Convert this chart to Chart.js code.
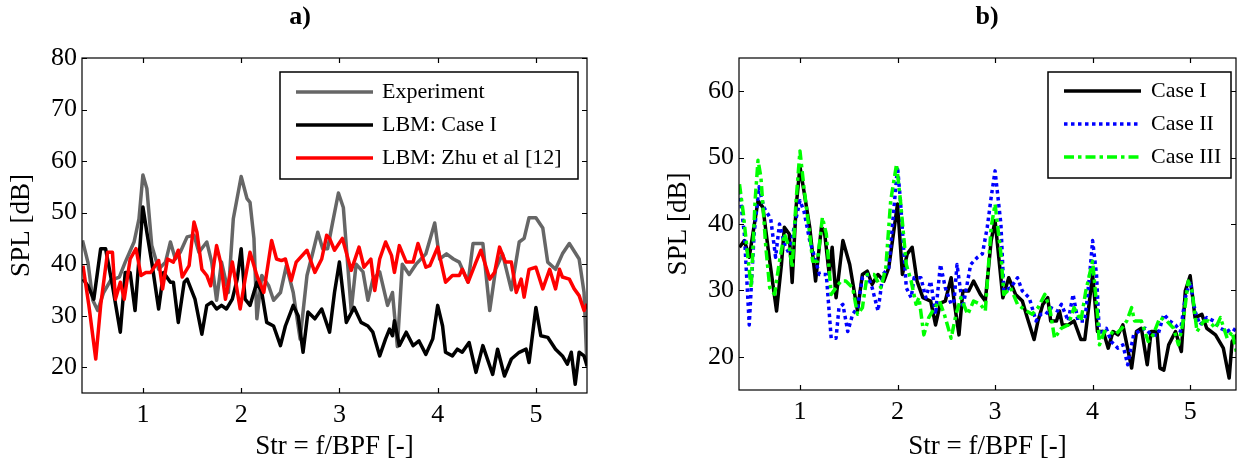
<!DOCTYPE html>
<html>
<head>
<meta charset="utf-8">
<script src="https://cdn.jsdelivr.net/npm/chart.js@4.4.0/dist/chart.umd.min.js"></script>
<style>
    html, body { margin: 0; padding: 0; background: #fff; }
    #wrap { position: relative; width: 1241px; height: 463px; }
    .panel { position: absolute; top: 0; height: 463px; }
    #pa { left: 0; width: 620px; }
    #pb { left: 620px; width: 621px; }
</style>
</head>
<body>
<div id="wrap">
    <div class="panel" id="pa"><canvas id="chartA"></canvas></div>
    <div class="panel" id="pb"><canvas id="chartB"></canvas></div>
</div>
<script>
// ticks
const xTicks = [1, 2, 3, 4, 5];
const yTicksA = [20, 30, 40, 50, 60, 70, 80];
const yTicksB = [20, 30, 40, 50, 60];

// a) Experiment
const expX = [0.385, 0.44, 0.49, 0.54, 0.60, 0.67, 0.76, 0.82, 0.91, 0.96, 1.00, 1.04, 1.09, 1.16, 1.23, 1.28, 1.33, 1.38, 1.45, 1.52,
    1.57, 1.65, 1.70, 1.75, 1.80, 1.87, 1.92, 2.00, 2.06, 2.09, 2.13, 2.16, 2.21, 2.28, 2.33, 2.40, 2.46, 2.53, 2.60, 2.67,
    2.73, 2.78, 2.83, 2.88, 2.93, 2.99, 3.04, 3.12, 3.17, 3.24, 3.29, 3.34, 3.41, 3.49, 3.54, 3.59, 3.64, 3.71, 3.78, 3.88,
    3.97, 4.02, 4.09, 4.16, 4.22, 4.31, 4.36, 4.46, 4.53, 4.59, 4.66, 4.75, 4.83, 4.88, 4.93, 5.00, 5.07, 5.12, 5.20, 5.27,
    5.34, 5.44, 5.49, 5.52];
const expY = [44.6, 40.4, 33, 31, 34.5, 36.8, 37.5, 40.4, 44.3, 48.8, 57.3, 54.7, 43.6, 39, 40.4, 44.3, 41, 42.3, 45.3, 45.6,
    42.3, 44.3, 40.4, 33, 40.4, 34.5, 48.8, 57, 52.7, 52, 45, 29.4, 37.8, 35.8, 33, 34.5, 39.7, 34.5, 25.5, 37.8,
    42.3, 46.2, 43, 43, 48, 53.8, 51, 31, 40, 38.5, 33, 37, 38.5, 32, 34.5, 24, 40, 38, 40, 42,
    48, 41, 42, 41, 40.4, 36.5, 44, 44, 31, 39, 42, 35, 44.3, 45, 49, 49, 47, 40.4, 39, 42,
    44, 41, 34.5, 20];

// a) LBM: Case I
const lbmX = [0.39, 0.44, 0.50, 0.57, 0.62, 0.69, 0.77, 0.82, 0.87, 0.92, 1.00, 1.04, 1.09, 1.16, 1.21, 1.28, 1.31, 1.36, 1.42, 1.45,
    1.53, 1.60, 1.65, 1.70, 1.75, 1.80, 1.85, 1.91, 1.96, 2.00, 2.04, 2.09, 2.16, 2.21, 2.26, 2.33, 2.40, 2.45, 2.53, 2.58,
    2.63, 2.68, 2.75, 2.82, 2.90, 2.95, 3.00, 3.07, 3.15, 3.22, 3.29, 3.34, 3.41, 3.47, 3.51, 3.54, 3.56, 3.61, 3.68, 3.75,
    3.81, 3.88, 3.95, 4.00, 4.05, 4.08, 4.15, 4.20, 4.25, 4.32, 4.39, 4.46, 4.56, 4.61, 4.68, 4.75, 4.83, 4.90, 4.93, 5.00,
    5.05, 5.12, 5.20, 5.27, 5.32, 5.36, 5.40, 5.44, 5.49, 5.52];
const lbmY = [37.1, 35.8, 33.2, 43, 43, 35.8, 26.8, 38.4, 38.4, 31, 51.1, 46.2, 40.4, 31.3, 38.4, 36.5, 36.5, 28.7, 36.5, 37.1,
    33.2, 26.4, 32, 32.6, 31.3, 32, 31.3, 33.2, 37.1, 43, 33.2, 32, 36.5, 34.5, 28.7, 28, 24.2, 28, 32, 30,
    22.9, 30.7, 29.4, 31.3, 26.8, 34.5, 40.4, 28.7, 31.6, 28.7, 28, 26.8, 22.2, 25.5, 27.4, 26.1, 29, 24.2, 26.8, 24.2,
    25.1, 22.5, 25.5, 32, 28, 22.9, 22.2, 23.5, 22.9, 24.8, 19, 24.2, 18.6, 23.5, 18.3, 21.6, 22.9, 23.5, 20.9, 31.6,
    26.1, 25.8, 23.5, 22.2, 20.6, 22.9, 16.7, 22.9, 22.2, 20.3];

// a) LBM: Zhu et al [12]
const zhuX = [0.39, 0.45, 0.52, 0.57, 0.64, 0.69, 0.72, 0.77, 0.81, 0.87, 0.93, 0.98, 1.03, 1.08, 1.16, 1.20, 1.25, 1.31, 1.36, 1.40,
    1.47, 1.52, 1.55, 1.60, 1.65, 1.69, 1.75, 1.79, 1.84, 1.91, 1.94, 1.99, 2.04, 2.09, 2.16, 2.23, 2.31, 2.36, 2.41, 2.45,
    2.51, 2.56, 2.67, 2.75, 2.82, 2.87, 2.90, 2.95, 3.03, 3.12, 3.20, 3.25, 3.32, 3.36, 3.41, 3.47, 3.53, 3.56, 3.61, 3.68,
    3.75, 3.80, 3.88, 3.92, 4.00, 4.08, 4.15, 4.22, 4.25, 4.31, 4.39, 4.44, 4.53, 4.58, 4.63, 4.69, 4.75, 4.80, 4.85, 4.88,
    4.93, 5.00, 5.07, 5.14, 5.20, 5.24, 5.27, 5.34, 5.39, 5.44, 5.49, 5.52];
const zhuY = [39.7, 32, 21.6, 32, 42.3, 42.3, 33.2, 36.5, 33.2, 41, 43, 37.8, 38.4, 38.4, 40.7, 35.2, 41, 40.4, 42.7, 37.5,
    39.7, 48.2, 46.2, 39, 37.8, 35.8, 43.6, 40.4, 33.2, 40.4, 37.1, 31.3, 37.1, 42.3, 37.8, 34.5, 44.6, 41, 40.7, 41,
    36.8, 40.4, 42.7, 38.4, 41, 45.6, 45, 42.7, 45, 38.8, 43.3, 39.4, 41, 34.9, 41, 44.3, 41.7, 38.4, 43.6, 40.4,
    40.4, 44, 39.4, 39.7, 43.3, 36.5, 37.8, 37.8, 39, 36.5, 40.4, 42.7, 37.1, 38.4, 43.3, 40.4, 40.4, 34.5, 37.1, 33.6,
    39, 39.4, 35.2, 39, 35.2, 39, 37.5, 37.1, 35.2, 33.9, 31, 32.3];

// b) Case I
const c1X = [0.38, 0.43, 0.48, 0.57, 0.62, 0.69, 0.76, 0.81, 0.84, 0.89, 0.92, 0.96, 1.00, 1.04, 1.10, 1.16, 1.22, 1.25, 1.30, 1.33,
    1.37, 1.44, 1.51, 1.59, 1.64, 1.69, 1.74, 1.80, 1.86, 1.91, 2.00, 2.05, 2.10, 2.15, 2.20, 2.26, 2.34, 2.39, 2.44, 2.49,
    2.55, 2.58, 2.63, 2.67, 2.73, 2.78, 2.85, 2.90, 2.96, 3.00, 3.08, 3.14, 3.21, 3.28, 3.33, 3.40, 3.44, 3.49, 3.54, 3.57,
    3.63, 3.66, 3.69, 3.75, 3.81, 3.88, 3.92, 4.00, 4.05, 4.11, 4.16, 4.21, 4.26, 4.31, 4.40, 4.45, 4.50, 4.56, 4.60, 4.66,
    4.69, 4.73, 4.78, 4.85, 4.91, 4.95, 5.00, 5.05, 5.12, 5.17, 5.26, 5.34, 5.40, 5.43, 5.48];
const c1Y = [36.5, 37.5, 35, 43.5, 42.5, 34.4, 26.9, 33.9, 39.5, 38.5, 31.2, 42.5, 48.6, 45, 39.5, 31.4, 39.5, 39, 32.4, 36.5,
    28.9, 37.5, 33.9, 26.9, 32.4, 32.9, 30.9, 32.4, 31.4, 33.4, 43, 32.4, 35.5, 36.5, 31.4, 28.9, 28.4, 24.8, 28.1, 28.4,
    31.9, 28.4, 23.3, 29.9, 29.9, 31.4, 29.4, 28.4, 37.5, 40.5, 28.9, 31.9, 29.4, 28.4, 25.9, 22.6, 25.4, 27.9, 28.9, 25.4,
    25.4, 26.9, 24.8, 24.8, 25.4, 22.6, 22.6, 32.4, 23.8, 23.8, 21.3, 23.8, 23.3, 24.8, 18.3, 23.8, 24.3, 18.8, 23.8, 23.8,
    18.3, 18, 21.8, 23.8, 20.8, 29.9, 32.2, 25.9, 26.4, 24.3, 23.3, 21.3, 16.8, 22.3, 23.3];

// b) Case II
const c2X = [0.38, 0.43, 0.48, 0.53, 0.58, 0.63, 0.70, 0.75, 0.79, 0.84, 0.89, 0.94, 1.00, 1.04, 1.10, 1.15, 1.20, 1.27, 1.32, 1.37,
    1.40, 1.44, 1.49, 1.54, 1.59, 1.64, 1.69, 1.74, 1.80, 1.85, 1.91, 1.97, 2.00, 2.03, 2.09, 2.14, 2.17, 2.24, 2.29, 2.34,
    2.39, 2.44, 2.49, 2.55, 2.58, 2.61, 2.67, 2.75, 2.82, 2.87, 2.92, 2.96, 3.00, 3.06, 3.09, 3.16, 3.23, 3.28, 3.35, 3.42,
    3.47, 3.52, 3.57, 3.64, 3.68, 3.75, 3.80, 3.85, 3.92, 3.97, 4.00, 4.04, 4.07, 4.14, 4.19, 4.26, 4.31, 4.36, 4.42, 4.47,
    4.54, 4.60, 4.67, 4.73, 4.79, 4.85, 4.90, 4.95, 5.00, 5.05, 5.10, 5.17, 5.24, 5.31, 5.38, 5.43, 5.48];
const c2Y = [45, 38.5, 24.8, 38.5, 45.6, 42.5, 40.8, 35, 40, 37, 35.5, 39.5, 43.5, 42, 37.5, 35, 32.4, 32.4, 22.8, 22.8,
    27.4, 27.9, 23.8, 26.4, 27.4, 31.9, 32.4, 30.4, 26.9, 32.4, 33.4, 43.5, 48.6, 43.5, 30.4, 28.9, 31.9, 31.9, 28.9, 31.4,
    26.4, 33.9, 30.4, 27.9, 28.4, 33.9, 27.4, 33.9, 35, 35.5, 39.5, 44, 48, 40, 29.9, 30.4, 31.9, 29.9, 28.9, 25.4,
    26.4, 26.4, 27.4, 26.9, 27.9, 25.4, 29.4, 25.4, 25.4, 32.4, 37.5, 32.4, 23.3, 24.3, 22.3, 21.3, 21.8, 18.8, 23.3, 23.8,
    24.3, 23.3, 23.3, 26.4, 25.4, 24.8, 23.8, 28.9, 31.4, 26.9, 24.8, 25.9, 25.4, 24.3, 23.8, 24.3, 23.8];

// b) Case III
const c3X = [0.38, 0.42, 0.47, 0.50, 0.54, 0.57, 0.60, 0.65, 0.69, 0.74, 0.79, 0.84, 0.89, 0.92, 0.96, 1.00, 1.04, 1.10, 1.13, 1.18,
    1.23, 1.27, 1.32, 1.37, 1.42, 1.47, 1.54, 1.59, 1.64, 1.69, 1.76, 1.83, 1.88, 1.93, 1.99, 2.03, 2.09, 2.14, 2.19, 2.22,
    2.27, 2.32, 2.38, 2.43, 2.48, 2.55, 2.60, 2.65, 2.72, 2.78, 2.85, 2.90, 2.96, 3.00, 3.06, 3.09, 3.16, 3.23, 3.32, 3.38,
    3.44, 3.51, 3.56, 3.61, 3.68, 3.75, 3.81, 3.88, 3.93, 4.00, 4.05, 4.07, 4.12, 4.18, 4.23, 4.30, 4.35, 4.40, 4.43, 4.50,
    4.57, 4.62, 4.69, 4.76, 4.83, 4.88, 4.93, 4.98, 5.02, 5.07, 5.14, 5.19, 5.26, 5.31, 5.38, 5.43, 5.48];
const c3Y = [46, 41.5, 34.4, 30.4, 43.5, 49.6, 47, 36.5, 30.4, 29.4, 34.4, 38.5, 36.5, 33.4, 43.5, 51, 45.6, 38.5, 34.4, 34.4,
    41, 38.5, 29.4, 30.4, 31.4, 31.4, 30.4, 26.4, 27.4, 32.4, 32.4, 30.4, 33.4, 43.5, 49, 43.5, 33.9, 31.4, 27.9, 28.9,
    23.3, 25.9, 27.4, 28.4, 26.4, 22.8, 26.4, 28.9, 26.4, 28.4, 27.9, 26.9, 39.5, 43, 35.5, 29.4, 30.4, 27.9, 26.9, 26.4,
    27.4, 29.4, 27.4, 22.8, 24.3, 24.8, 27.4, 25.4, 29.9, 34.4, 26.4, 21.8, 23.8, 23.8, 23.3, 24.3, 25.4, 27.4, 25.4, 25.4,
    22.3, 23.3, 25.9, 25.4, 24.3, 21.8, 25.4, 31.4, 29.9, 23.8, 25.4, 25.4, 24.3, 25.9, 22.8, 23.8, 20.3];

const SERIF = '"Liberation Serif", "Times New Roman", serif';

function pts(xs, ys) {
    return xs.map((x, i) => ({ x: x, y: ys[i] }));
}

// box, inward ticks, legend and panel title, matlab style
const framePlugin = {
    id: 'frame',
    afterDraw(chart, args, opts) {
        const ctx = chart.ctx;
        const a = chart.chartArea;
        const sx = chart.scales.x, sy = chart.scales.y;
        ctx.save();
        ctx.strokeStyle = '#000';
        ctx.lineWidth = 1.2;
        ctx.beginPath();
        xTicks.forEach(v => {
            const px = Math.round(sx.getPixelForValue(v)) + 0.5;
            ctx.moveTo(px, a.bottom); ctx.lineTo(px, a.bottom - 5);
            ctx.moveTo(px, a.top); ctx.lineTo(px, a.top + 5);
        });
        opts.yTicks.forEach(v => {
            const py = Math.round(sy.getPixelForValue(v)) + 0.5;
            ctx.moveTo(a.left, py); ctx.lineTo(a.left + 5, py);
            ctx.moveTo(a.right, py); ctx.lineTo(a.right - 5, py);
        });
        ctx.stroke();
        ctx.strokeRect(a.left, a.top, a.right - a.left, a.bottom - a.top);

        // legend
        const lg = opts.legend;
        ctx.fillStyle = '#fff';
        ctx.fillRect(lg.left, lg.top, lg.right - lg.left, lg.bottom - lg.top);
        ctx.lineWidth = 1.5;
        ctx.strokeRect(lg.left, lg.top, lg.right - lg.left, lg.bottom - lg.top);
        ctx.font = '22px ' + SERIF;
        ctx.textBaseline = 'middle';
        chart.data.datasets.forEach((ds, i) => {
            const y = lg.rows[i];
            ctx.beginPath();
            ctx.strokeStyle = ds.borderColor;
            ctx.lineWidth = ds.borderWidth;
            ctx.setLineDash(ds.borderDash || []);
            ctx.moveTo(lg.x1, y); ctx.lineTo(lg.x2, y);
            ctx.stroke();
            ctx.setLineDash([]);
            ctx.fillStyle = '#000';
            ctx.fillText(ds.label, lg.textX, y);
        });

        // panel title
        ctx.font = 'bold 26px ' + SERIF;
        ctx.textAlign = 'center';
        ctx.fillText(opts.title, opts.titleX, 17);
        ctx.restore();
    }
};

function makeOptions(cfg) {
    return {
        responsive: true,
        maintainAspectRatio: false,
        animation: false,
        layout: { padding: { left: 0, right: cfg.padRight, top: 58, bottom: 0 } },
        elements: { point: { radius: 0 }, line: { tension: 0, borderJoinStyle: 'round' } },
        plugins: {
            legend: { display: false },
            tooltip: { enabled: false },
            frame: cfg.frame
        },
        scales: {
            x: {
                type: 'linear',
                min: cfg.xMin, max: cfg.xMax,
                grid: { display: false, drawTicks: false },
                border: { display: false },
                afterBuildTicks: s => { s.ticks = xTicks.map(v => ({ value: v })); },
                afterFit: s => { s.height = cfg.xHeight; },
                ticks: { color: '#000', padding: 7, font: { family: SERIF, size: 26 }, maxRotation: 0 },
                title: { display: true, text: 'Str = f/BPF [-]', color: '#000', padding: 0, font: { family: SERIF, size: 27 } }
            },
            y: {
                min: cfg.yMin, max: cfg.yMax,
                grid: { display: false, drawTicks: false },
                border: { display: false },
                afterBuildTicks: s => { s.ticks = cfg.frame.yTicks.map(v => ({ value: v })); },
                afterFit: s => { s.width = cfg.yWidth; },
                ticks: { color: '#000', padding: 5, font: { family: SERIF, size: 26 } },
                title: { display: true, text: 'SPL [dB]', color: '#000', padding: { top: cfg.yTitlePad, bottom: 0 }, font: { family: SERIF, size: 27 } }
            }
        }
    };
}

new Chart(document.getElementById('chartA'), {
    type: 'line',
    data: {
        datasets: [
            { label: 'Experiment', data: pts(expX, expY), borderColor: '#666666', borderWidth: 3.5, order: 3 },
            { label: 'LBM: Case I', data: pts(lbmX, lbmY), borderColor: '#000000', borderWidth: 3.5, order: 2 },
            { label: 'LBM: Zhu et al [12]', data: pts(zhuX, zhuY), borderColor: '#ff0000', borderWidth: 3.5, order: 1 }
        ]
    },
    options: makeOptions({
        padRight: 33, xHeight: 70, yWidth: 82, yTitlePad: 6,
        xMin: 0.38, xMax: 5.52, yMin: 15, yMax: 80,
        frame: {
            yTicks: yTicksA, title: 'a)', titleX: 300,
            legend: { left: 280, top: 72, right: 578, bottom: 179, x1: 296, x2: 373, textX: 382, rows: [92, 125, 158] }
        }
    }),
    plugins: [framePlugin]
});

new Chart(document.getElementById('chartB'), {
    type: 'line',
    data: {
        datasets: [
            { label: 'Case I', data: pts(c1X, c1Y), borderColor: '#000000', borderWidth: 3.5, order: 3 },
            { label: 'Case II', data: pts(c2X, c2Y), borderColor: '#0000ff', borderWidth: 3.5, borderDash: [3.5, 3.5], order: 2 },
            { label: 'Case III', data: pts(c3X, c3Y), borderColor: '#00ff00', borderWidth: 3.5, borderDash: [10, 4, 3.5, 4], order: 1 }
        ]
    },
    options: makeOptions({
        padRight: 5, xHeight: 73, yWidth: 119, yTitlePad: 43,
        xMin: 0.375, xMax: 5.47, yMin: 15, yMax: 65,
        frame: {
            yTicks: yTicksB, title: 'b)', titleX: 367,
            legend: { left: 428, top: 72, right: 611, bottom: 178, x1: 444, x2: 521, textX: 531, rows: [91, 124, 157] }
        }
    }),
    plugins: [framePlugin]
});
</script>
</body>
</html>
